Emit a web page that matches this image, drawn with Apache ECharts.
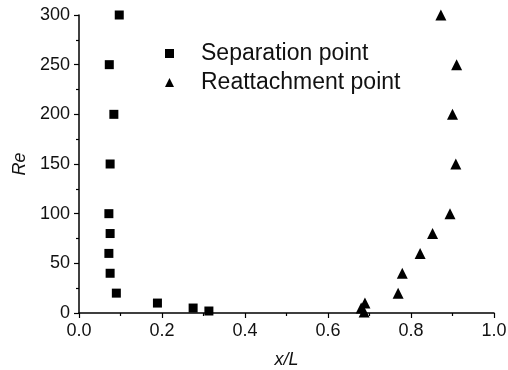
<!DOCTYPE html>
<html>
<head>
<meta charset="utf-8">
<script src="https://cdn.jsdelivr.net/npm/echarts@6/dist/echarts.min.js"></script>
<style>html,body{margin:0;padding:0;background:#fff}#c{width:508px;height:370px}</style>
</head>
<body>
<div id="c"></div>
<script>
var sepX = [0.097, 0.073, 0.084, 0.075, 0.072, 0.075, 0.072, 0.075, 0.090, 0.189, 0.275, 0.313];
var sepRe = [300, 250, 200, 150, 100, 80, 60, 40, 20, 10, 5, 2];
var reaX = [0.872, 0.910, 0.900, 0.908, 0.894, 0.852, 0.822, 0.779, 0.769, 0.689, 0.680, 0.687];
var reaRe = [300, 250, 200, 150, 100, 80, 60, 40, 20, 10, 5, 1];
var seriesNames = ['Separation point', 'Reattachment point'];
var xTicks = [0, 0.2, 0.4, 0.6, 0.8, 1.0];
var yTicks = [0, 50, 100, 150, 200, 250, 300];

function pairs(xs, ys) { return xs.map(function (x, i) { return [x, ys[i]]; }); }

var chart = echarts.init(document.getElementById('c'), null, {renderer: 'canvas'});
var font = 'Liberation Sans, Arial, sans-serif';
chart.setOption({
  animation: false,
  grid: {left: 79, top: 15, right: 14, bottom: 57, outerBoundsMode: 'none', containLabel: false},
  legend: {
    orient: 'vertical', left: 160, top: 37, itemGap: 6,
    itemWidth: 9, itemHeight: 9,
    data: [{name: seriesNames[0], icon: 'rect'}, {name: seriesNames[1], icon: 'triangle'}],
    textStyle: {fontFamily: font, fontSize: 23, color: '#111', padding: [0, 0, 0, 22]}
  },
  xAxis: {
    type: 'value', min: xTicks[0], max: xTicks[xTicks.length - 1], interval: 0.2,
    name: 'x/L', nameLocation: 'middle', nameGap: 38,
    nameTextStyle: {fontFamily: font, fontSize: 18, fontStyle: 'italic', color: '#111'},
    axisLine: {show: true, onZero: false, lineStyle: {color: '#000', width: 1.5}},
    axisTick: {show: true, inside: false, length: 5, lineStyle: {color: '#000', width: 1.2}},
    minorTick: {show: true, splitNumber: 2, length: 3, lineStyle: {color: '#000', width: 1.2}},
    splitLine: {show: false},
    axisLabel: {fontFamily: font, fontSize: 18, color: '#111', margin: 9,
      formatter: function (v) { return v.toFixed(1); }}
  },
  yAxis: {
    type: 'value', min: yTicks[0], max: yTicks[yTicks.length - 1], interval: 50,
    name: 'Re', nameLocation: 'middle', nameGap: 50,
    nameTextStyle: {fontFamily: font, fontSize: 18, fontStyle: 'italic', color: '#111'},
    axisLine: {show: true, onZero: false, lineStyle: {color: '#000', width: 1.5}},
    axisTick: {show: true, inside: false, length: 5, lineStyle: {color: '#000', width: 1.2}},
    minorTick: {show: true, splitNumber: 2, length: 3, lineStyle: {color: '#000', width: 1.2}},
    splitLine: {show: false},
    axisLabel: {fontFamily: font, fontSize: 18, color: '#111', margin: 9}
  },
  series: [
    {name: seriesNames[0], type: 'scatter', symbol: 'rect', symbolSize: 9,
      itemStyle: {color: '#000', opacity: 1}, data: pairs(sepX, sepRe)},
    {name: seriesNames[1], type: 'scatter', symbol: 'triangle', symbolSize: 11,
      itemStyle: {color: '#000', opacity: 1}, data: pairs(reaX, reaRe)}
  ]
});
</script>
</body>
</html>
